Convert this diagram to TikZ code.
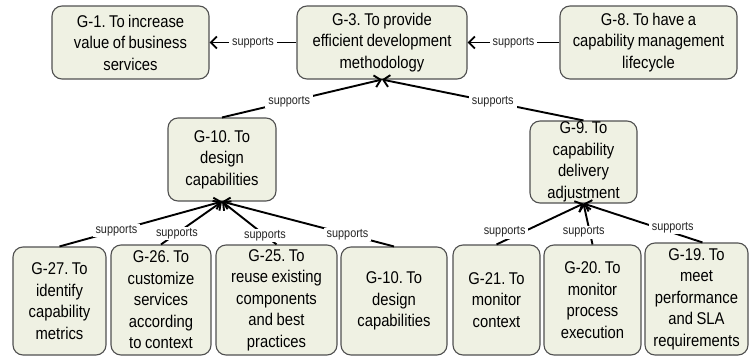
\documentclass[tikz,border=0pt]{standalone}
\usepackage{fontspec}
\newfontfamily\goalfont{Liberation Sans}[FakeStretch=0.87, WordSpace=0.85]
\usetikzlibrary{arrows.meta}
\frenchspacing

\definecolor{goalfill}{RGB}{239,241,227}
\definecolor{goalline}{RGB}{80,80,80}

\begin{document}
\begin{tikzpicture}[
  x=1pt, y=-1pt,
  goal/.style={draw=goalline, fill=goalfill, line width=1.1pt, rounded corners=10pt, align=center, inner sep=1pt, font=\goalfont\fontsize{17}{21.5}\selectfont},
  sup/.style={-{Straight Barb[length=6pt,width=12pt]}, line width=1.9pt, draw=black},
  lbl/.style={fill=white, inner xsep=3pt, inner ysep=1pt, text=black!85, font=\goalfont\fontsize{12.5}{14}\selectfont}
]

\useasboundingbox (0,0) rectangle (752,356);

% top row
\node[goal, minimum width=157pt, minimum height=73pt] (g1) at (130.5,42.5) {G-1. To increase\\value of business\\services};
\node[goal, minimum width=170pt, minimum height=73pt] (g3) at (382,42.5) {G-3. To provide\\efficient development\\methodology};
\node[goal, minimum width=177pt, minimum height=73pt] (g8) at (648.5,42.5) {G-8. To have a\\capability management\\lifecycle};

% middle row
\node[goal, minimum width=108pt, minimum height=83pt] (g10) at (222,159.5) {G-10. To\\design\\capabilities};
\node[goal, minimum width=107pt, minimum height=82pt, inner ysep=0pt] (g9) at (583.5,162) {G-9. To\\capability\\delivery\\adjustment};

% bottom row
\node[goal, minimum width=93pt, minimum height=108pt] (g27) at (59.5,301) {G-27. To\\identify\\capability\\metrics};
\node[goal, minimum width=100pt, minimum height=110pt] (g26) at (161,300) {G-26. To\\customize\\services\\according\\to context};
\node[goal, minimum width=121pt, minimum height=110pt] (g25) at (276.5,300) {G-25. To\\reuse existing\\components\\and best\\practices};
\node[goal, minimum width=106pt, minimum height=108pt] (g10b) at (394,301) {G-10. To\\design\\capabilities};
\node[goal, minimum width=87pt, minimum height=110pt] (g21) at (496.5,300) {G-21. To\\monitor\\context};
\node[goal, minimum width=97pt, minimum height=110pt] (g20) at (592.5,300) {G-20. To\\monitor\\process\\execution};
\node[goal, minimum width=103pt, minimum height=112pt] (g19) at (696.5,299) {G-19. To\\meet\\performance\\and SLA\\requirements};

% supports links
\draw[sup] (g3) -- node[lbl] {supports} (g1);
\draw[sup] (g8) -- node[lbl] {supports} (g3);
\draw[sup] (g10.north) -- node[lbl, pos=0.42] {supports} (g3.south);
\draw[sup] (g9.north) -- node[lbl, pos=0.45] {supports} (g3.south);

\draw[sup] (g27.north) -- node[lbl, pos=0.35] {supports} (g10.south);
\draw[sup] (g26.north) -- node[lbl, pos=0.26] {supports} (g10.south);
\draw[sup] (g25.north) -- node[lbl, pos=0.21] {supports} (g10.south);
\draw[sup] (g10b.north) -- node[lbl, pos=0.27] {supports} (g10.south);

\draw[sup] (g21.north) -- node[lbl, pos=0.3, xshift=-18pt] {supports} (g9.south);
\draw[sup] (g20.north) -- node[lbl, pos=0.3, xshift=-6pt] {supports} (g9.south);
\draw[sup] ([xshift=6pt]g19.north) -- node[lbl, pos=0.25, yshift=5pt] {supports} (g9.south);

\end{tikzpicture}
\end{document}
